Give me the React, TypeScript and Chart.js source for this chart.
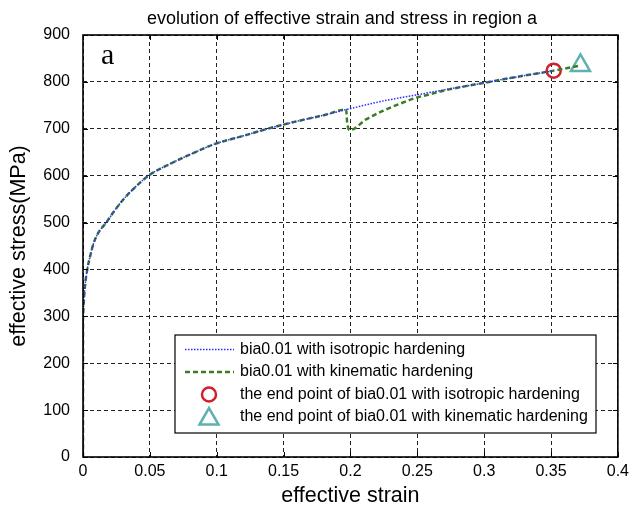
import React, { useEffect, useRef } from 'react';
import { Chart, registerables } from 'chart.js';

Chart.register(...registerables);

const chartTitle = 'evolution of effective strain and stress in region a';
const xAxisTitle = 'effective strain';
const yAxisTitle = 'effective stress(MPa)';
const panelLabel = 'a';

const xTicks = [0, 0.05, 0.1, 0.15, 0.2, 0.25, 0.3, 0.35, 0.4];
const yTicks = [0, 100, 200, 300, 400, 500, 600, 700, 800, 900];

const isoStrain = [0, 0, 0.0005, 0.0015, 0.0032, 0.0055, 0.0075, 0.011, 0.0174, 0.023, 0.0286, 0.036, 0.049, 0.065, 0.08, 0.098, 0.12, 0.138, 0.16, 0.18, 0.197, 0.224, 0.249, 0.274, 0.3, 0.325, 0.352];
const isoStress = [0, 300, 327, 365, 400, 430, 452, 476, 500, 523, 544, 567, 600, 625, 645, 667, 685, 700, 716, 729, 741, 759, 772, 785, 798, 811, 824];

const kinStrain = [0, 0, 0.0005, 0.0015, 0.0032, 0.0055, 0.0075, 0.011, 0.0174, 0.023, 0.0286, 0.036, 0.049, 0.065, 0.08, 0.098, 0.12, 0.138, 0.16, 0.18, 0.1968, 0.1975, 0.1993, 0.2117, 0.2241, 0.2366, 0.249, 0.2614, 0.2739, 0.2863, 0.3, 0.325, 0.352, 0.372];
const kinStress = [0, 300, 327, 365, 400, 430, 452, 476, 500, 523, 544, 567, 600, 625, 645, 667, 685, 700, 716, 729, 741, 715, 697, 720, 738, 753, 766, 775, 784, 791, 798, 811, 824, 835];

const isoEnd = { x: 0.352, y: 824 };
const kinEnd = { x: 0.372, y: 835 };

const seriesLabels = [
  'bia0.01 with isotropic hardening',
  'bia0.01 with kinematic hardening',
  'the end point of bia0.01 with isotropic hardening',
  'the end point of bia0.01 with kinematic hardening',
];

const BLUE = '#2a2aff';
const GREEN = '#3b7d23';
const RED = '#d0202c';
const TEAL = '#5fb0b0';
const FONT = '"Liberation Sans", Arial, sans-serif';

const decorPlugin = {
  id: 'decor',
  afterDraw(chart: any) {
    const { ctx, chartArea } = chart;
    const { left, right, top, bottom } = chartArea;
    const xs = chart.scales.x;
    const ys = chart.scales.y;
    ctx.save();
    // inner ticks
    ctx.strokeStyle = '#000';
    ctx.lineWidth = 1;
    ctx.setLineDash([]);
    ctx.beginPath();
    xTicks.forEach((v) => {
      const px = Math.round(xs.getPixelForValue(v)) + 0.5;
      ctx.moveTo(px, bottom);
      ctx.lineTo(px, bottom - 5);
      ctx.moveTo(px, top);
      ctx.lineTo(px, top + 5);
    });
    yTicks.forEach((v) => {
      const py = Math.round(ys.getPixelForValue(v)) + 0.5;
      ctx.moveTo(left, py);
      ctx.lineTo(left + 5, py);
      ctx.moveTo(right, py);
      ctx.lineTo(right - 5, py);
    });
    ctx.stroke();
    // frame
    ctx.lineWidth = 1.6;
    ctx.strokeRect(left, top, right - left, bottom - top);

    // title
    ctx.fillStyle = '#000';
    ctx.textAlign = 'center';
    ctx.textBaseline = 'alphabetic';
    ctx.font = `18px ${FONT}`;
    ctx.fillText(chartTitle, 342, 23.5);
    // axis titles
    ctx.textBaseline = 'middle';
    ctx.font = `21.5px ${FONT}`;
    ctx.fillText(xAxisTitle, (left + right) / 2, 496);
    ctx.save();
    ctx.translate(19, (top + bottom) / 2);
    ctx.rotate(-Math.PI / 2);
    ctx.fillText(yAxisTitle, 0, 0);
    ctx.restore();
    // panel label
    ctx.font = `30px "Liberation Serif", "Times New Roman", serif`;
    ctx.textAlign = 'left';
    ctx.textBaseline = 'alphabetic';
    ctx.fillText(panelLabel, 101, 64);

    // legend
    const lx = 175, ly = 335, lw = 421, lh = 98;
    ctx.fillStyle = '#fff';
    ctx.fillRect(lx, ly, lw, lh);
    ctx.strokeStyle = '#000';
    ctx.lineWidth = 1.2;
    ctx.strokeRect(lx, ly, lw, lh);
    const rows = [349.5, 372, 394.5, 417];
    // blue dotted
    ctx.lineWidth = 1.5;
    ctx.strokeStyle = BLUE;
    ctx.setLineDash([1.5, 1.5]);
    ctx.beginPath();
    ctx.moveTo(185, rows[0]);
    ctx.lineTo(234, rows[0]);
    ctx.stroke();
    // green dashed
    ctx.lineWidth = 2.5;
    ctx.strokeStyle = GREEN;
    ctx.setLineDash([5, 3]);
    ctx.beginPath();
    ctx.moveTo(185, rows[1]);
    ctx.lineTo(234, rows[1]);
    ctx.stroke();
    ctx.setLineDash([]);
    // circle
    ctx.strokeStyle = RED;
    ctx.lineWidth = 2.5;
    ctx.beginPath();
    ctx.arc(209, rows[2], 7, 0, Math.PI * 2);
    ctx.stroke();
    // triangle
    ctx.strokeStyle = TEAL;
    ctx.beginPath();
    const r = 11;
    for (let i = 0; i < 3; i++) {
      const a = (i * 2 * Math.PI) / 3;
      const px = 209 + Math.sin(a) * r;
      const py = rows[3] + 2 - Math.cos(a) * r;
      if (i === 0) ctx.moveTo(px, py);
      else ctx.lineTo(px, py);
    }
    ctx.closePath();
    ctx.stroke();
    // texts
    ctx.fillStyle = '#000';
    ctx.font = `16px ${FONT}`;
    ctx.textAlign = 'left';
    ctx.textBaseline = 'middle';
    seriesLabels.forEach((t, i) => ctx.fillText(t, 240, rows[i]));
    ctx.restore();
  },
};

export default function App() {
  const ref = useRef<HTMLCanvasElement>(null);
  useEffect(() => {
    const iso = isoStrain.map((x, i) => ({ x, y: isoStress[i] }));
    const kin = kinStrain.map((x, i) => ({ x, y: kinStress[i] }));
    const chart = new Chart(ref.current as HTMLCanvasElement, {
      type: 'scatter',
      data: {
        datasets: [
          {
            label: seriesLabels[0],
            data: iso,
            showLine: true,
            borderColor: BLUE,
            borderWidth: 1.5,
            borderDash: [1.5, 1.5],
            pointRadius: 0,
            cubicInterpolationMode: 'monotone',
          },
          {
            label: seriesLabels[1],
            data: kin,
            showLine: true,
            borderColor: GREEN,
            borderWidth: 2.5,
            borderDash: [5, 3],
            pointRadius: 0,
            cubicInterpolationMode: 'monotone',
          },
          {
            label: seriesLabels[2],
            data: [isoEnd],
            pointStyle: 'circle',
            pointRadius: 7,
            borderWidth: 2.5,
            borderColor: RED,
            backgroundColor: 'rgba(0,0,0,0)',
          },
          {
            label: seriesLabels[3],
            data: [kinEnd],
            pointStyle: 'triangle',
            pointRadius: 11,
            borderWidth: 2.5,
            borderColor: TEAL,
            backgroundColor: 'rgba(0,0,0,0)',
          },
        ],
      },
      options: {
        animation: false,
        responsive: false,
        maintainAspectRatio: false,
        layout: { padding: { top: 35, right: 15, left: 0, bottom: 0 } },
        plugins: {
          legend: { display: false },
          title: { display: false },
          tooltip: { enabled: false },
        },
        scales: {
          x: {
            type: 'linear',
            min: 0,
            max: 0.4,
            afterBuildTicks: (s: any) => {
              s.ticks = xTicks.map((v) => ({ value: v }));
            },
            afterFit: (s: any) => {
              s.height = 60;
            },
            ticks: {
              color: '#000',
              font: { family: FONT, size: 16 },
              padding: 5,
              maxRotation: 0,
              autoSkip: false,
              callback: (v: any) => String(v),
            },
            grid: { color: '#222', lineWidth: 1, drawTicks: false },
            border: { display: false, dash: [4, 3] },
          },
          y: {
            type: 'linear',
            min: 0,
            max: 900,
            afterBuildTicks: (s: any) => {
              s.ticks = yTicks.map((v) => ({ value: v }));
            },
            afterFit: (s: any) => {
              s.width = 83;
            },
            ticks: {
              color: '#000',
              font: { family: FONT, size: 16 },
              padding: 13,
              autoSkip: false,
              callback: (v: any) => String(v),
            },
            grid: { color: '#222', lineWidth: 1, drawTicks: false },
            border: { display: false, dash: [4, 3] },
          },
        },
      },
      plugins: [decorPlugin],
    } as any);
    return () => chart.destroy();
  }, []);
  return (
    <div style={{ position: 'absolute', left: 0, top: 0, width: 634, height: 517, background: '#fff' }}>
      <canvas ref={ref} width={634} height={517} style={{ display: 'block', width: 634, height: 517 }} />
    </div>
  );
}
